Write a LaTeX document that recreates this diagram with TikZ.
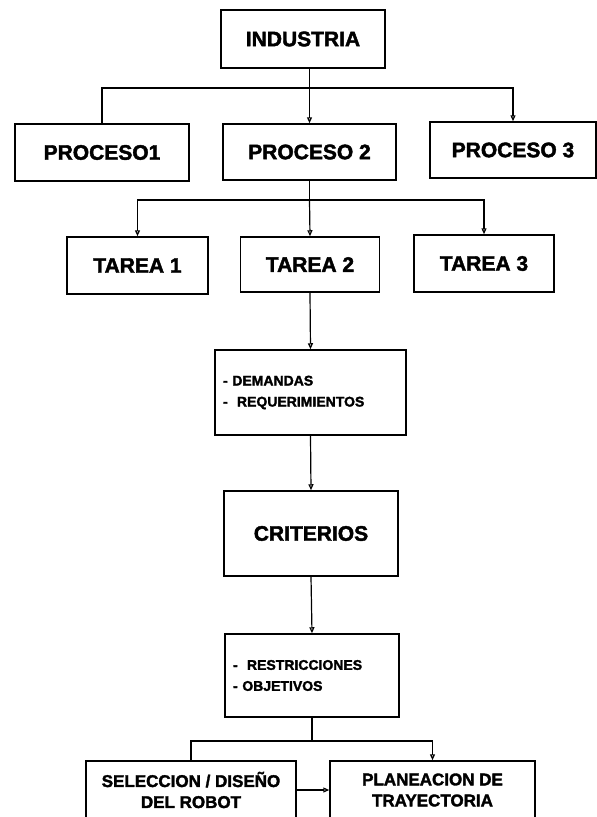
\documentclass[tikz,border=0pt]{standalone}
\usepackage{fontspec}
\setmainfont{Liberation Sans}[BoldFeatures={FakeBold=2}]
\usetikzlibrary{positioning, calc, arrows.meta}

\begin{document}
\begin{tikzpicture}[x=1pt, y=-1pt, line width=1.2pt,
    box/.style={rectangle, draw, line width=1.5pt, inner sep=0pt,
      font=\bfseries\fontsize{21}{24}\selectfont},
    listbox/.style={box, align=left, inner xsep=8pt,
      font=\bfseries\fontsize{14}{21}\selectfont},
    lowbox/.style={box, align=center, font=\bfseries\fontsize{17}{21}\selectfont},
    >={Triangle[open, length=6pt, width=5pt]}]

    \clip (0,0) rectangle (597,817);

    % first level
    \node[box, minimum width=164pt, minimum height=58pt] (ind) at (303,39) {INDUSTRIA};
    \node[box, minimum width=174pt, minimum height=57pt] (p1) at (102,152.5) {PROCESO1};
    \node[box, minimum width=173pt, minimum height=56pt] (p2) at (309.5,152) {PROCESO 2};
    \node[box, minimum width=166pt, minimum height=56pt] (p3) at (513,150) {PROCESO 3};

    % tasks
    \node[box, minimum width=141pt, minimum height=57pt] (t1) at (137.5,265.5) {TAREA 1};
    \node[box, minimum width=139pt, minimum height=55pt] (t2) at (310,264.5) {TAREA 2};
    \node[box, minimum width=140pt, minimum height=57pt] (t3) at (484,263.5) {TAREA 3};

    \node[listbox, minimum width=191pt, minimum height=85pt, text width=175pt] (dem)
      at (310.5,392.5) {- DEMANDAS\\-\ \ REQUERIMIENTOS};
    \node[box, minimum width=174pt, minimum height=85pt] (crit) at (311,533.5) {CRITERIOS};
    \node[listbox, minimum width=174pt, minimum height=83pt, text width=158pt] (res)
      at (312,675.5) {-\ \ RESTRICCIONES\\- OBJETIVOS};

    \node[lowbox, minimum width=210pt, minimum height=58pt] (sel) at (191,790)
      {SELECCION / DISEÑO\\DEL ROBOT};
    \node[lowbox, minimum width=205pt, minimum height=58pt] (plan) at (432.5,790)
      {PLANEACION DE\\TRAYECTORIA};

    % branches
    \coordinate (j1) at (p2.north |- 0,88);
    \coordinate (j2) at (p2.south |- 0,200);
    \coordinate (j3) at (res.south |- 0,741);

    \draw (ind.south -| j1) -- (j1);
    \draw (j1) -| (p1.north);
    \draw[->] (j1) -- (p2.north);
    \draw[->] (j1) -| (p3.north);

    \draw (p2.south) -- (j2);
    \draw[->] (j2) -| (t1.north);
    \draw[->] (j2) -- (t2.north);
    \draw[->] (j2) -| (t3.north);

    \draw[->] (t2.south) -- (dem.north);
    \draw[->] (dem.south) -- (crit.north);
    \draw[->] (crit.south) -- (res.north);

    \draw (res.south) -- (j3);
    \draw (j3) -| (sel.north);
    \draw[->] (j3) -| (plan.north);
    \draw[->] (sel) -- (plan);
\end{tikzpicture}
\end{document}
